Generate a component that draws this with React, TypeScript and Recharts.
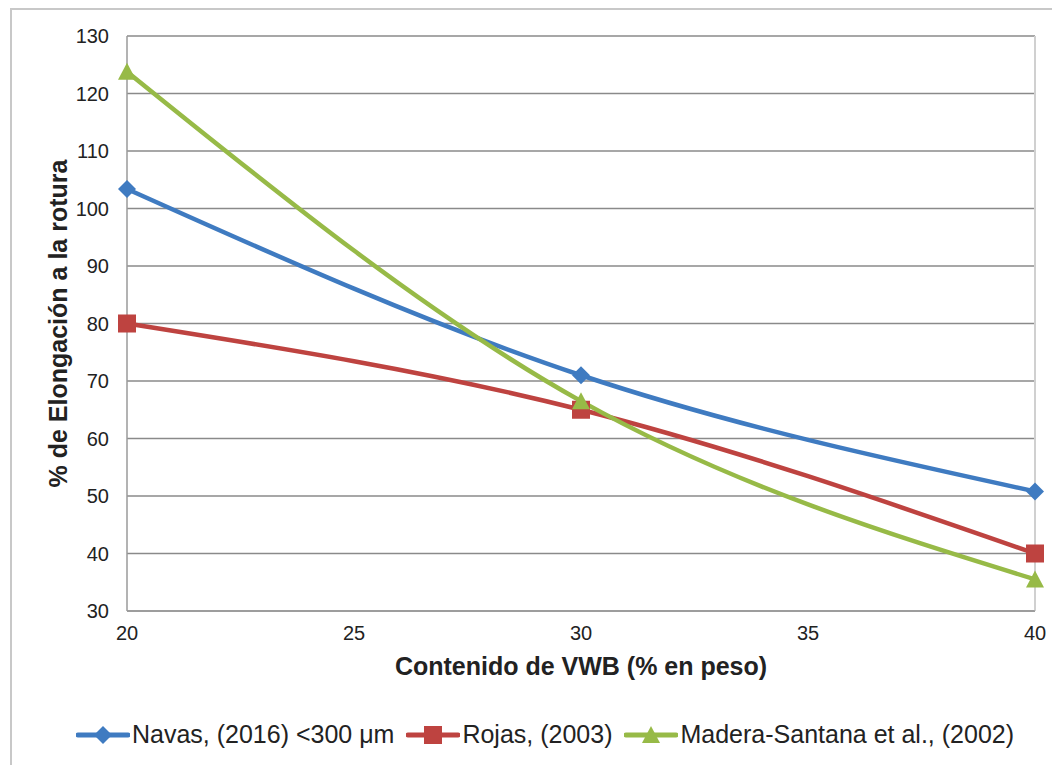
import React from 'react';
import { LineChart, Line, XAxis, YAxis, CartesianGrid, ReferenceLine } from 'recharts';

const contenido = [20, 30, 40];
const navas = [103.4, 71, 50.8];
const rojas = [80, 65, 40];
const madera = [123.8, 66.5, 35.5];
const xTicks = [20, 25, 30, 35, 40];
const yTicks = [30, 40, 50, 60, 70, 80, 90, 100, 110, 120, 130];

const SERIES = [
  { key: 'navas', name: 'Navas, (2016) <300 μm', color: '#3F7BC1', shape: 'diamond' },
  { key: 'rojas', name: 'Rojas, (2003)', color: '#BE4340', shape: 'square' },
  { key: 'madera', name: 'Madera-Santana et al., (2002)', color: '#97BA47', shape: 'triangle' },
];

const data = contenido.map((c, i) => ({
  x: c,
  navas: navas[i],
  rojas: rojas[i],
  madera: madera[i],
}));

const FONT = '"Liberation Sans", Arial, sans-serif';

function Marker({ cx, cy, shape, color, s = 9 }: any) {
  if (cx == null || cy == null) return null;
  if (shape === 'diamond') {
    return <polygon points={`${cx},${cy - s} ${cx + s},${cy} ${cx},${cy + s} ${cx - s},${cy}`} fill={color} />;
  }
  if (shape === 'square') {
    return <rect x={cx - s} y={cy - s} width={s * 2} height={s * 2} fill={color} />;
  }
  return <polygon points={`${cx},${cy - s} ${cx + s},${cy + s - 1} ${cx - s},${cy + s - 1}`} fill={color} />;
}

function ChartLegend() {
  return (
    <div style={{ position: 'absolute', left: 0, top: 712, width: 1086, display: 'flex', justifyContent: 'center', alignItems: 'center', fontFamily: FONT, fontSize: 25, color: '#222' }}>
      {SERIES.map((s) => (
        <div key={s.key} style={{ display: 'flex', alignItems: 'center', marginRight: 12 }}>
          <svg width={54} height={24}>
            <line x1={2} y1={12} x2={52} y2={12} stroke={s.color} strokeWidth={5} strokeLinecap="round" />
            <Marker cx={27} cy={12} shape={s.shape} color={s.color} s={9} />
          </svg>
          <span style={{ marginLeft: 2 }}>{s.name}</span>
        </div>
      ))}
    </div>
  );
}

export default function App() {
  return (
    <div style={{ position: 'relative', width: 1052, height: 757, overflow: 'hidden' }}>
      <div style={{ position: 'absolute', left: 2, top: 0, width: 1100, height: 800, border: '2px solid #c8c8c8' }} />
      <div style={{ position: 'absolute', left: 0, top: 0 }}>
        <LineChart width={1052} height={757} data={data} margin={{ top: 28, right: 25, bottom: 80, left: 25 }}>
          <CartesianGrid horizontal vertical={false} stroke="#8a8a8a" strokeWidth={1.5} />
          <ReferenceLine x={40} stroke="#d0d0d0" strokeWidth={2} />
          <XAxis
            dataKey="x"
            type="number"
            domain={[20, 40]}
            ticks={xTicks}
            tickLine={false}
            axisLine={{ stroke: '#9a9a9a', strokeWidth: 1.5 }}
            fontSize={20}
            tick={{ fontFamily: FONT, fontSize: 20, fill: '#222' }}
            tickMargin={9}
            height={74}
            label={{ value: 'Contenido de VWB (% en peso)', position: 'insideBottom', offset: 10, style: { fontFamily: FONT, fontSize: 25, fontWeight: 'bold', fill: '#222' } }}
          />
          <YAxis
            type="number"
            domain={[30, 130]}
            ticks={yTicks}
            tickLine={false}
            axisLine={{ stroke: '#9a9a9a', strokeWidth: 1.5 }}
            fontSize={20}
            tick={{ fontFamily: FONT, fontSize: 20, fill: '#222' }}
            tickMargin={12}
            width={94}
            label={{ value: '% de Elongación a la rotura', angle: -90, position: 'insideLeft', offset: 25, style: { textAnchor: 'middle', fontFamily: FONT, fontSize: 25, fontWeight: 'bold', fill: '#222' } }}
          />
          {SERIES.map((s) => (
            <Line
              key={s.key}
              dataKey={s.key}
              name={s.name}
              type="monotone"
              stroke={s.color}
              strokeWidth={4.5}
              isAnimationActive={false}
              dot={(p: any) => <Marker key={`${s.key}-${p.index}`} cx={p.cx} cy={p.cy} shape={s.shape} color={s.color} />}
              activeDot={false}
            />
          ))}
        </LineChart>
      </div>
      <ChartLegend />
    </div>
  );
}
